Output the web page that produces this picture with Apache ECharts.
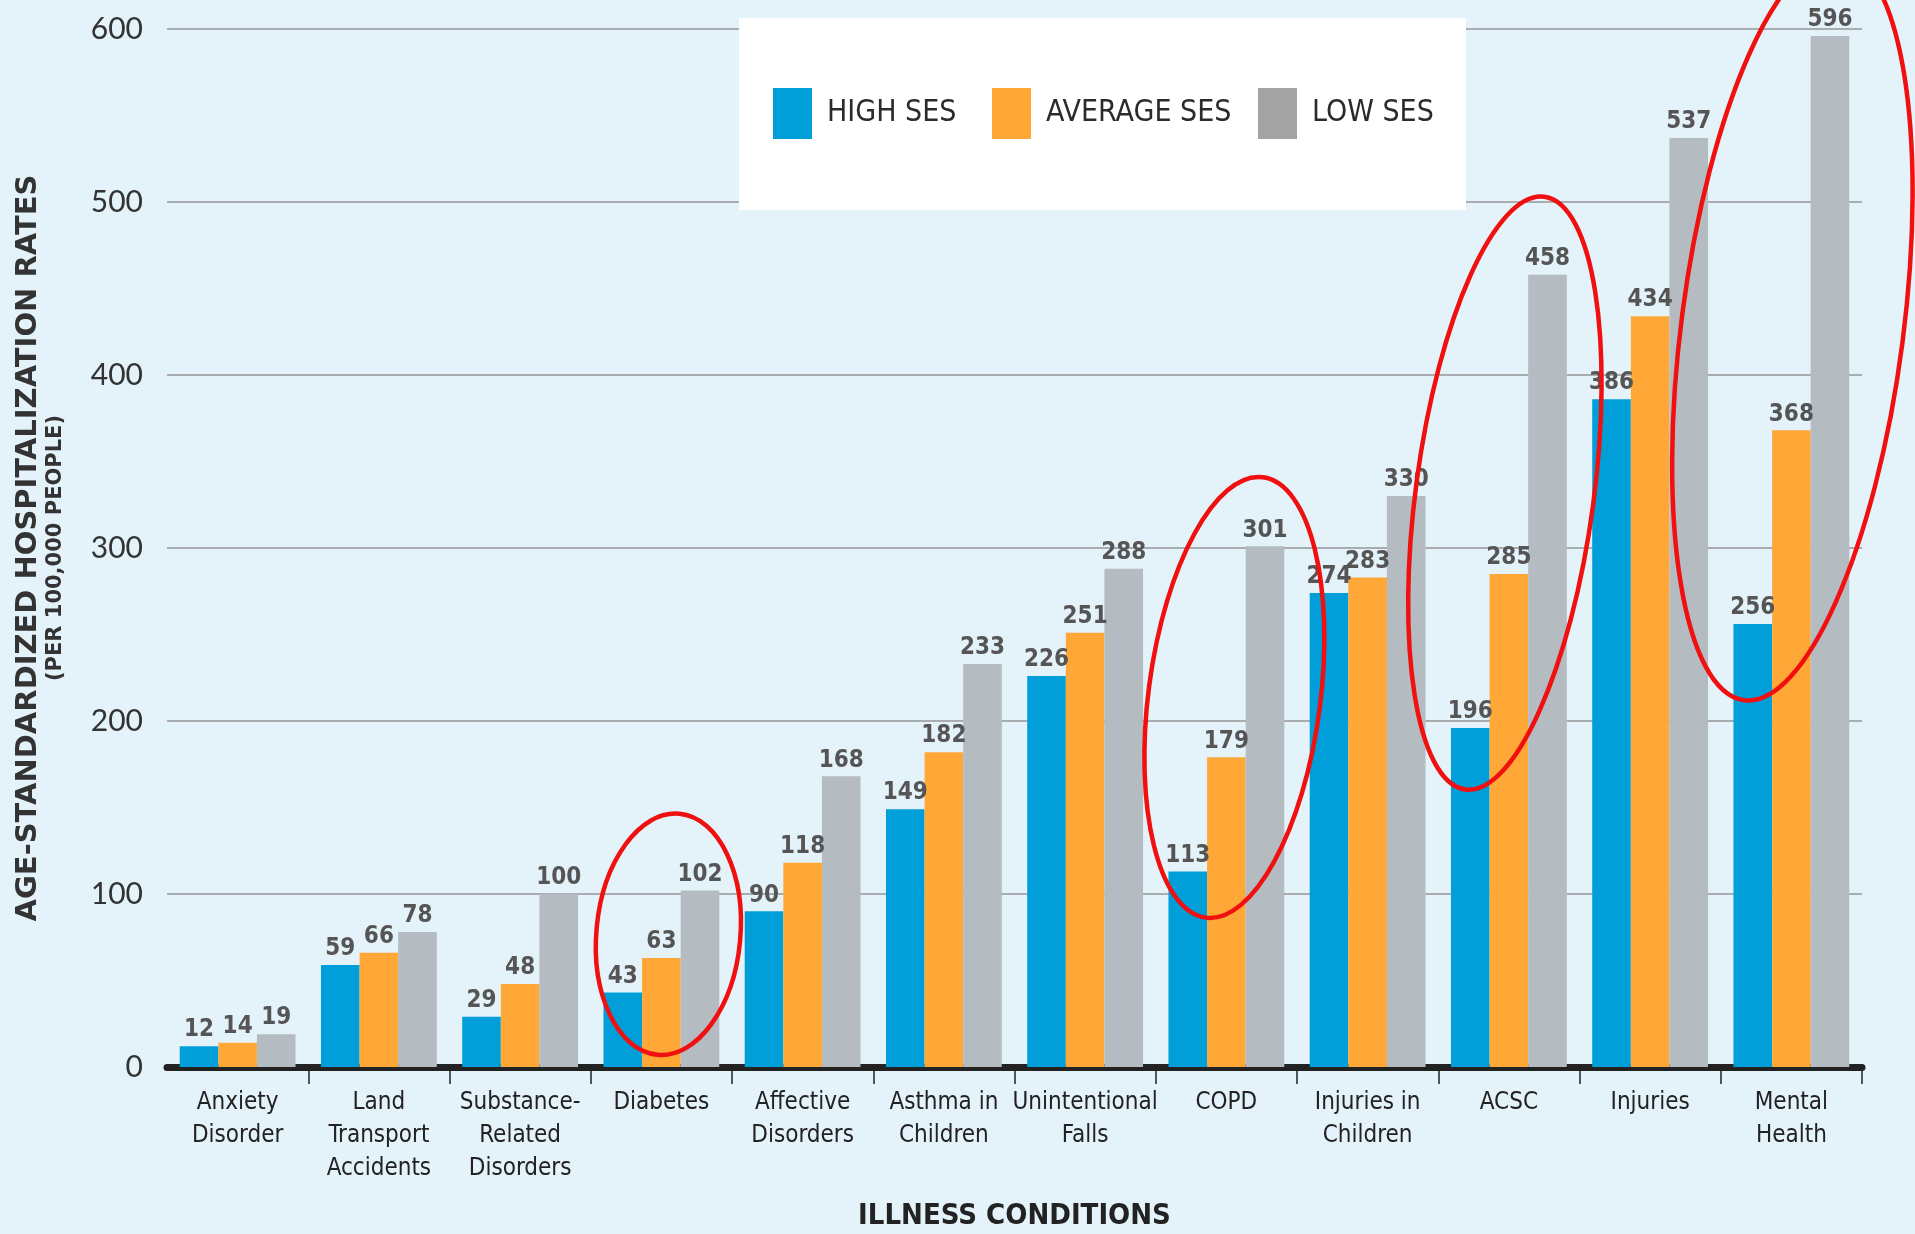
<!DOCTYPE html>
<html>
<head>
<meta charset="utf-8">
<script src="https://cdn.jsdelivr.net/npm/echarts@6/dist/echarts.min.js"></script>
<style>
html,body{margin:0;padding:0;background:#e4f2fa;}
#chart{width:1915px;height:1234px;}
</style>
</head>
<body>
<div id="chart"></div>
<script>
const categories = ['Anxiety\nDisorder','Land\nTransport\nAccidents','Substance-\nRelated\nDisorders','Diabetes','Affective\nDisorders','Asthma in\nChildren','Unintentional\nFalls','COPD','Injuries in\nChildren','ACSC','Injuries','Mental\nHealth'];
const seriesNames = ['HIGH SES','AVERAGE SES','LOW SES'];
const highSES    = [12, 59, 29, 43, 90, 149, 226, 113, 274, 196, 386, 256];
const averageSES = [14, 66, 48, 63, 118, 182, 251, 179, 283, 285, 434, 368];
const lowSES     = [19, 78, 100, 102, 168, 233, 288, 301, 330, 458, 537, 596];
const yTicks = [0, 100, 200, 300, 400, 500, 600];

const colors = ['#009fda', '#ffa838', '#b4bbc1'];
const legendColors = ['#009fda', '#ffa838', '#a3a3a3'];
const narrow = '"Liberation Sans Narrow", "DejaVu Sans Condensed", "Arial Narrow", sans-serif';

const chart = echarts.init(document.getElementById('chart'), null, {renderer: 'canvas'});

function legendFor(i, left) {
  return {
    left: left, top: 88, padding: 0,
    itemWidth: 39, itemHeight: 51, z: 6,
    icon: 'rect', selectedMode: false,
    data: [{name: seriesNames[i], itemStyle: {color: legendColors[i]}}],
    textStyle: {fontFamily: narrow, fontSize: 30, color: '#2b2b2b', padding: [4, 0, 0, 10]}
  };
}

function barSeries(i, data) {
  return {
    name: seriesNames[i], type: 'bar', data: data,
    barGap: '0%', barCategoryGap: '18%',
    itemStyle: {color: colors[i]},
    label: {show: true, position: 'top', distance: 4,
      fontFamily: narrow, fontSize: 24, fontWeight: 'bold', color: '#555'}
  };
}

chart.setOption({
  backgroundColor: '#e4f2fa',
  animation: false,
  grid: {left: 167, right: 53, top: 29, bottom: 167, containLabel: false, outerBoundsMode: 'none'},
  legend: [legendFor(0, 773), legendFor(1, 992), legendFor(2, 1258)],
  graphic: [{id: 'box', type: 'rect', z: 3, left: 739, top: 18,
    shape: {width: 727, height: 192}, style: {fill: '#ffffff'}}],
  xAxis: {
    type: 'category', data: categories, offset: 3,
    axisLine: {lineStyle: {color: '#222', width: 7}},
    axisTick: {show: true, length: 17, lineStyle: {color: '#222', width: 1.5},
      interval: function (idx) { return idx !== 0; }},
    axisLabel: {interval: 0, margin: 16, fontFamily: narrow, fontSize: 24,
      lineHeight: 33, color: '#222'},
    name: 'ILLNESS CONDITIONS', nameLocation: 'middle', nameGap: 132,
    nameTextStyle: {fontFamily: narrow, fontSize: 29, fontWeight: 'bold', color: '#222'}
  },
  yAxis: {
    type: 'value', min: yTicks[0], max: yTicks[yTicks.length - 1], interval: 100,
    axisLine: {show: false}, axisTick: {show: false},
    splitLine: {lineStyle: {color: '#a9adb0', width: 2}},
    axisLabel: {margin: 24, fontFamily: 'Lato, "Noto Sans", sans-serif', fontSize: 30, color: '#333'},
    name: '{a|AGE-STANDARDIZED HOSPITALIZATION RATES}\n{b|(PER 100,000 PEOPLE)}',
    nameLocation: 'middle', nameRotate: 90, nameGap: 98,
    nameTextStyle: {
      rich: {
        a: {fontFamily: '"DejaVu Sans", sans-serif', fontWeight: 'bold', fontSize: 29, color: '#333', lineHeight: 30},
        b: {fontFamily: '"DejaVu Sans", sans-serif', fontWeight: 'bold', fontSize: 21, color: '#333', lineHeight: 26}
      }
    }
  },
  series: [barSeries(0, highSES), barSeries(1, averageSES), barSeries(2, lowSES)]
});

// red annotation ellipses, anchored to the axes
const annotations = [
  {cat: 3, val: 76.7, dx: 7, rx: 72, ry: 121, tilt: 5.2},
  {cat: 7, val: 213.6, dx: 8, rx: 86, ry: 222, tilt: 7.4},
  {cat: 9, val: 331.7, dx: -4, rx: 89, ry: 299, tilt: 7.6},
  {cat: 11, val: 427, dx: 1, rx: 111, ry: 375, tilt: 7.4}
];
const els = annotations.map(function (a, k) {
  const p = chart.convertToPixel({xAxisIndex: 0, yAxisIndex: 0}, [a.cat, a.val]);
  return {
    id: 'ell' + k, type: 'ellipse', z: 10, silent: true,
    x: p[0] + a.dx, y: p[1], rotation: -a.tilt * Math.PI / 180,
    shape: {cx: 0, cy: 0, rx: a.rx, ry: a.ry},
    style: {fill: 'none', stroke: '#f01010', lineWidth: 4.5}
  };
});
chart.setOption({graphic: els});
</script>
</body>
</html>
